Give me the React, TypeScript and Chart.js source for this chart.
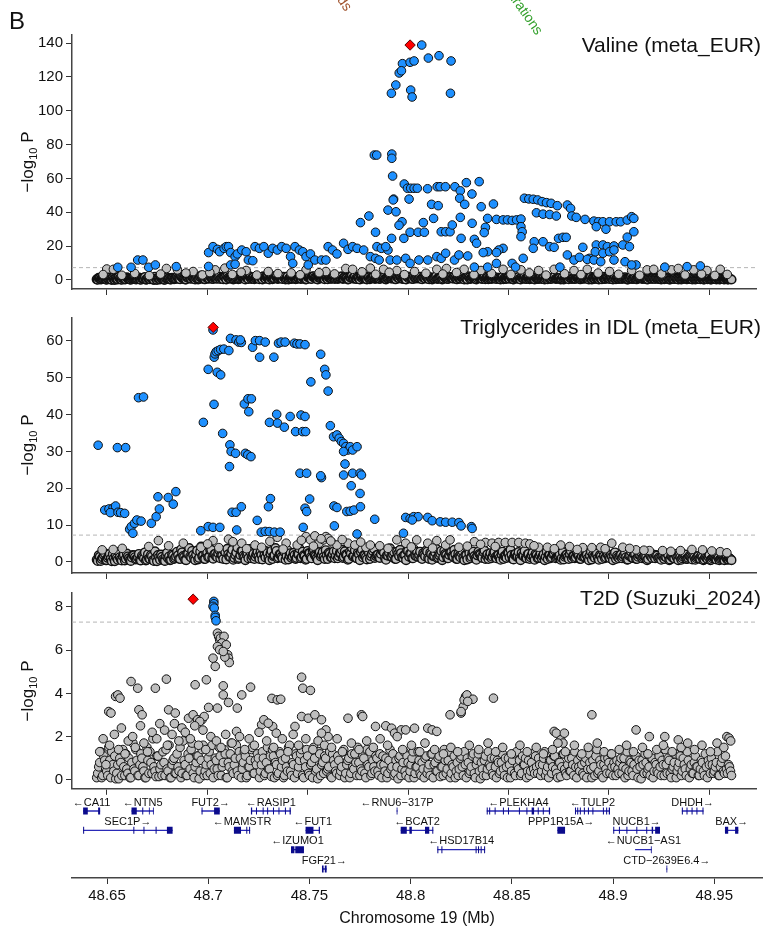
import React, { useEffect, useRef } from 'react';
import { Chart, registerables } from 'chart.js';

Chart.register(...registerables);

const FONT = '"Liberation Sans", Arial, Helvetica, sans-serif';
const X_MIN = 48632.7;
const X_MAX = 48973.6;
const GWS_LINE = 7.3;

const xTickValues = [48650, 48700, 48750, 48800, 48850, 48900, 48950];
const xTickLabels = ['48.65', '48.7', '48.75', '48.8', '48.85', '48.9', '48.95'];
const valineTicks = [0, 20, 40, 60, 80, 100, 120, 140];
const tgTicks = [0, 10, 20, 30, 40, 50, 60];
const t2dTicks = [0, 2, 4, 6, 8];

// positions (kb) of the dense background SNPs shared by the three traits
const snpKb = [
  48645,48646,48647,48648,48649,48650,48651,48652,48653,48654,48655,48656,48657,48658,48659,48660,48661,48662,48663,48664,
  48665,48666,48667,48668,48669,48670,48671,48672,48673,48674,48675,48676,48677,48678,48679,48680,48681,48682,48683,48684,
  48685,48686,48687,48688,48689,48690,48691,48692,48693,48694,48695,48696,48697,48698,48699,48700,48701,48702,48703,48704,
  48705,48706,48707,48708,48709,48710,48711,48712,48713,48714,48715,48716,48717,48718,48719,48720,48721,48722,48723,48724,
  48725,48726,48727,48728,48729,48730,48731,48732,48733,48734,48735,48736,48737,48738,48739,48740,48741,48742,48743,48744,
  48745,48746,48747,48748,48749,48750,48751,48752,48753,48754,48755,48756,48757,48758,48759,48760,48761,48762,48763,48764,
  48765,48766,48767,48768,48769,48770,48771,48772,48773,48774,48775,48776,48777,48778,48779,48780,48781,48782,48783,48784,
  48785,48786,48787,48788,48789,48790,48791,48792,48793,48794,48795,48796,48797,48798,48799,48800,48801,48802,48803,48804,
  48805,48806,48807,48808,48809,48810,48811,48812,48813,48814,48815,48816,48817,48818,48819,48820,48821,48822,48823,48824,
  48825,48826,48827,48828,48829,48830,48831,48832,48833,48834,48835,48836,48837,48838,48839,48840,48841,48842,48843,48844,
  48845,48846,48847,48848,48849,48850,48851,48852,48853,48854,48855,48856,48857,48858,48859,48860,48861,48862,48863,48864,
  48865,48866,48867,48868,48869,48870,48871,48872,48873,48874,48875,48876,48877,48878,48879,48880,48881,48882,48883,48884,
  48885,48886,48887,48888,48889,48890,48891,48892,48893,48894,48895,48896,48897,48898,48899,48900,48901,48902,48903,48904,
  48905,48906,48907,48908,48909,48910,48911,48912,48913,48914,48915,48916,48917,48918,48919,48920,48921,48922,48923,48924,
  48925,48926,48927,48928,48929,48930,48931,48932,48933,48934,48935,48936,48937,48938,48939,48940,48941,48942,48943,48944,
  48945,48946,48947,48948,48949,48950,48951,48952,48953,48954,48955,48956,48957,48958,48959,48960,48961,
];
// second set of background SNPs, between the first ones
const snpKb2 = [
  48645.5,48646.5,48647.5,48648.5,48649.5,48650.5,48651.5,48652.5,48653.5,48654.5,48655.5,48656.5,48657.5,48658.5,48659.5,48660.5,48661.5,48662.5,48663.5,48664.5,
  48665.5,48666.5,48667.5,48668.5,48669.5,48670.5,48671.5,48672.5,48673.5,48674.5,48675.5,48676.5,48677.5,48678.5,48679.5,48680.5,48681.5,48682.5,48683.5,48684.5,
  48685.5,48686.5,48687.5,48688.5,48689.5,48690.5,48691.5,48692.5,48693.5,48694.5,48695.5,48696.5,48697.5,48698.5,48699.5,48700.5,48701.5,48702.5,48703.5,48704.5,
  48705.5,48706.5,48707.5,48708.5,48709.5,48710.5,48711.5,48712.5,48713.5,48714.5,48715.5,48716.5,48717.5,48718.5,48719.5,48720.5,48721.5,48722.5,48723.5,48724.5,
  48725.5,48726.5,48727.5,48728.5,48729.5,48730.5,48731.5,48732.5,48733.5,48734.5,48735.5,48736.5,48737.5,48738.5,48739.5,48740.5,48741.5,48742.5,48743.5,48744.5,
  48745.5,48746.5,48747.5,48748.5,48749.5,48750.5,48751.5,48752.5,48753.5,48754.5,48755.5,48756.5,48757.5,48758.5,48759.5,48760.5,48761.5,48762.5,48763.5,48764.5,
  48765.5,48766.5,48767.5,48768.5,48769.5,48770.5,48771.5,48772.5,48773.5,48774.5,48775.5,48776.5,48777.5,48778.5,48779.5,48780.5,48781.5,48782.5,48783.5,48784.5,
  48785.5,48786.5,48787.5,48788.5,48789.5,48790.5,48791.5,48792.5,48793.5,48794.5,48795.5,48796.5,48797.5,48798.5,48799.5,48800.5,48801.5,48802.5,48803.5,48804.5,
  48805.5,48806.5,48807.5,48808.5,48809.5,48810.5,48811.5,48812.5,48813.5,48814.5,48815.5,48816.5,48817.5,48818.5,48819.5,48820.5,48821.5,48822.5,48823.5,48824.5,
  48825.5,48826.5,48827.5,48828.5,48829.5,48830.5,48831.5,48832.5,48833.5,48834.5,48835.5,48836.5,48837.5,48838.5,48839.5,48840.5,48841.5,48842.5,48843.5,48844.5,
  48845.5,48846.5,48847.5,48848.5,48849.5,48850.5,48851.5,48852.5,48853.5,48854.5,48855.5,48856.5,48857.5,48858.5,48859.5,48860.5,48861.5,48862.5,48863.5,48864.5,
  48865.5,48866.5,48867.5,48868.5,48869.5,48870.5,48871.5,48872.5,48873.5,48874.5,48875.5,48876.5,48877.5,48878.5,48879.5,48880.5,48881.5,48882.5,48883.5,48884.5,
  48885.5,48886.5,48887.5,48888.5,48889.5,48890.5,48891.5,48892.5,48893.5,48894.5,48895.5,48896.5,48897.5,48898.5,48899.5,48900.5,48901.5,48902.5,48903.5,48904.5,
  48905.5,48906.5,48907.5,48908.5,48909.5,48910.5,48911.5,48912.5,48913.5,48914.5,48915.5,48916.5,48917.5,48918.5,48919.5,48920.5,48921.5,48922.5,48923.5,48924.5,
  48925.5,48926.5,48927.5,48928.5,48929.5,48930.5,48931.5,48932.5,48933.5,48934.5,48935.5,48936.5,48937.5,48938.5,48939.5,48940.5,48941.5,48942.5,48943.5,48944.5,
  48945.5,48946.5,48947.5,48948.5,48949.5,48950.5,48951.5,48952.5,48953.5,48954.5,48955.5,48956.5,48957.5,48958.5,48959.5,48960.5,
];

const valineBandP = [
  0.4,1.2,0.3,0.8,1.6,0.2,0.9,0.5,1.3,0.1,0.7,1.8,0.4,1.0,0.3,1.5,0.6,0.2,1.1,0.8,
  0.5,1.4,0.2,0.9,1.7,0.3,0.6,1.2,0.4,1.9,0.1,0.8,1.3,0.5,0.2,1.6,0.9,0.4,1.1,0.7,
  1.8,0.6,2.2,1.0,0.4,1.5,2.4,0.8,1.2,0.3,1.9,0.7,2.6,1.1,0.5,1.7,0.9,2.1,0.6,1.4,
  0.8,2.0,1.3,0.5,1.7,2.3,0.9,1.5,0.4,1.2,2.5,0.7,1.9,1.1,0.3,1.6,2.2,0.6,1.4,0.9,
  1.7,0.5,1.2,2.1,0.8,1.5,0.3,1.9,1.0,2.4,0.6,1.3,0.9,1.8,0.4,2.0,1.1,0.7,1.6,0.5,
  1.4,2.3,0.8,1.1,0.4,1.9,1.5,0.6,2.2,1.0,0.3,1.7,1.2,0.9,2.0,0.5,1.4,0.8,1.8,1.1,
  0.6,1.5,2.1,0.9,1.3,0.4,1.8,2.5,1.0,0.7,1.6,0.3,2.2,1.2,0.8,1.9,0.5,1.4,2.3,1.0,
  1.3,0.7,2.0,1.6,0.4,1.1,2.4,0.9,1.7,0.5,1.4,2.1,0.8,1.2,0.3,1.9,1.5,0.6,2.2,1.0,
  0.9,1.8,0.5,1.3,2.0,0.7,1.6,0.4,1.1,2.3,0.8,1.5,0.3,1.9,1.2,0.6,1.7,1.0,2.1,0.5,
  1.4,0.8,1.9,0.3,1.2,2.2,0.6,1.6,1.0,0.4,1.8,1.3,0.7,2.0,1.1,0.5,1.5,0.9,1.7,0.6,
  1.2,0.4,1.8,1.0,0.7,1.5,2.1,0.5,1.3,0.9,1.7,0.3,1.1,1.9,0.6,1.4,0.8,1.6,0.4,1.2,
  0.7,1.5,1.0,0.3,1.8,1.2,0.6,1.4,2.0,0.8,1.1,0.4,1.7,0.9,1.3,0.5,1.9,1.0,0.6,1.5,
  1.1,0.5,1.6,0.9,1.3,0.3,1.8,1.2,0.7,1.5,0.4,1.0,1.9,0.6,1.4,0.8,1.2,0.3,1.7,1.1,
  0.6,1.3,0.9,1.6,0.4,1.1,1.8,0.7,1.4,0.5,1.2,1.7,0.8,1.0,0.3,1.5,0.9,1.3,0.6,1.1,
  0.8,0.4,1.2,0.9,1.5,0.3,1.0,0.6,1.4,0.7,1.1,0.4,0.9,1.3,0.5,1.0,0.7,1.2,0.4,0.8,
  0.6,1.1,0.3,0.9,0.5,1.2,0.4,0.8,0.6,1.0,0.3,0.7,0.5,0.9,0.4,0.6,0.3,
];
const valineBand2P = [
  0.2,0.9,0.5,1.1,0.3,0.7,1.3,0.1,0.6,1.0,0.4,0.8,0.2,1.2,0.5,0.9,0.3,0.7,1.1,0.4,
  0.8,0.3,1.0,0.6,0.2,1.3,0.5,0.9,0.1,0.7,1.1,0.4,0.8,0.2,1.0,0.6,0.3,1.2,0.5,0.9,
  1.1,0.5,1.6,0.8,0.3,1.4,0.9,1.9,0.6,1.2,0.4,1.7,1.0,0.5,1.5,0.8,2.0,0.7,1.3,0.9,
  1.5,0.6,1.1,1.8,0.4,1.3,0.9,2.1,0.7,1.6,0.5,1.2,1.9,0.8,1.4,0.6,1.7,1.0,0.5,1.3,
  0.9,1.6,0.4,1.2,1.8,0.7,1.4,0.5,1.1,1.9,0.8,1.3,0.6,1.7,1.0,0.4,1.5,0.9,1.2,0.7,
  1.3,0.6,1.8,1.0,0.5,1.5,0.8,2.0,1.2,0.6,1.4,0.9,1.7,0.5,1.1,1.6,0.8,1.3,0.6,1.9,
  1.0,1.5,0.7,1.8,1.2,0.5,1.4,0.9,2.0,0.6,1.3,1.7,0.8,1.1,0.4,1.6,1.0,1.9,0.7,1.2,
  0.8,1.4,1.9,0.6,1.1,1.6,0.9,1.3,0.5,1.8,1.0,1.5,0.7,1.2,2.0,0.9,1.4,0.6,1.1,1.7,
  1.2,0.6,1.5,0.9,1.8,0.5,1.3,1.0,1.6,0.7,1.1,1.9,0.8,1.4,0.6,1.2,1.7,0.9,1.3,0.5,
  1.0,1.6,0.7,1.2,0.4,1.5,0.9,1.8,0.6,1.1,1.4,0.8,1.7,0.5,1.3,1.0,0.6,1.5,0.8,1.2,
  0.7,1.3,0.5,1.0,1.6,0.8,1.2,0.4,1.4,0.9,0.6,1.5,1.0,0.7,1.3,0.5,1.1,0.8,1.4,0.6,
  1.1,0.6,1.3,0.9,0.5,1.2,0.8,1.5,0.6,1.0,1.3,0.7,0.4,1.1,0.9,1.4,0.6,1.0,0.8,1.2,
  0.5,1.0,0.8,1.3,0.6,1.1,0.4,0.9,1.4,0.7,1.2,0.5,1.0,0.8,1.3,0.6,0.9,1.1,0.5,0.8,
  1.0,0.6,1.2,0.8,0.4,1.1,0.7,1.3,0.5,0.9,1.2,0.6,1.0,0.8,0.5,1.1,0.7,0.9,1.2,0.6,
  0.7,1.0,0.5,0.8,1.1,0.4,0.9,0.6,1.0,0.3,0.8,0.6,1.1,0.5,0.7,0.9,0.4,0.8,0.6,1.0,
  0.5,0.8,0.4,0.7,0.9,0.3,0.6,0.8,0.4,0.7,0.5,0.9,0.3,0.6,0.4,0.5,
];

const tgBandP = [
  0.6,1.8,0.3,1.2,2.4,0.5,1.5,0.9,2.1,0.2,1.1,2.7,0.7,1.6,0.4,2.3,1.0,0.3,1.9,1.3,
  0.8,2.2,0.4,1.4,2.6,0.6,1.0,1.9,0.5,2.9,0.2,1.3,2.0,0.7,0.3,2.5,1.5,0.6,1.7,1.1,
  2.8,0.9,3.4,1.6,0.6,2.3,3.8,1.2,1.9,0.5,3.1,1.1,4.2,1.7,0.8,2.6,1.4,3.3,0.9,2.2,
  1.3,3.2,2.0,0.8,2.7,3.6,1.4,2.3,0.6,1.9,3.9,1.1,3.0,1.7,0.5,2.5,3.5,1.0,2.2,1.4,
  2.7,0.8,1.9,3.3,1.2,2.4,0.5,3.0,1.6,3.8,1.0,2.1,1.4,2.9,0.6,3.2,1.7,1.1,2.5,0.8,
  2.2,3.6,1.3,1.8,0.6,3.0,2.4,1.0,3.5,1.6,0.5,2.7,1.9,1.4,3.2,0.8,2.2,1.3,2.9,1.7,
  1.0,2.4,3.3,1.4,2.0,0.6,2.8,3.9,1.6,1.1,2.5,0.5,3.4,1.9,1.3,3.0,0.8,2.2,3.6,1.6,
  2.0,1.1,3.1,2.5,0.6,1.7,3.7,1.4,2.7,0.8,2.2,3.3,1.3,1.9,0.5,3.0,2.3,1.0,3.4,1.6,
  1.4,2.8,0.8,2.0,3.1,1.1,2.5,0.6,1.7,3.6,1.3,2.3,0.5,3.0,1.9,1.0,2.7,1.6,3.3,0.8,
  2.2,1.3,3.0,0.5,1.9,3.4,1.0,2.5,1.6,0.6,2.8,2.0,1.1,3.1,1.7,0.8,2.4,1.4,2.7,1.0,
  1.9,0.6,2.8,1.6,1.1,2.4,3.3,0.8,2.0,1.4,2.7,0.5,1.7,3.0,1.0,2.2,1.3,2.5,0.6,1.9,
  1.1,2.4,1.6,0.5,2.8,1.9,1.0,2.2,3.1,1.3,1.7,0.6,2.7,1.4,2.0,0.8,3.0,1.6,1.0,2.3,
  1.7,0.8,2.5,1.4,2.0,0.5,2.8,1.9,1.1,2.3,0.6,1.6,3.0,1.0,2.2,1.3,1.9,0.5,2.6,1.7,
  1.0,2.0,1.4,2.5,0.6,1.7,2.8,1.1,2.2,0.8,1.9,2.6,1.3,1.6,0.5,2.3,1.4,2.0,1.0,1.7,
  1.3,0.6,1.9,1.4,2.3,0.5,1.6,1.0,2.2,1.1,1.7,0.6,1.4,2.0,0.8,1.6,1.1,1.9,0.6,1.3,
  1.0,1.7,0.5,1.4,0.8,1.9,0.6,1.3,1.0,1.6,0.5,1.1,0.8,1.4,0.6,1.0,0.5,
];
const tgBand2P = [
  0.3,1.4,0.8,1.9,0.5,1.1,2.2,0.2,1.0,1.7,0.6,1.3,0.4,2.0,0.9,1.5,0.5,1.2,1.8,0.7,
  1.3,0.5,1.7,1.0,0.4,2.1,0.8,1.5,0.3,1.2,1.9,0.6,1.4,0.4,1.7,1.0,0.5,2.0,0.8,1.5,
  1.8,0.8,2.6,1.3,0.5,2.3,1.5,3.0,1.0,2.0,0.7,2.8,1.6,0.8,2.4,1.3,3.2,1.1,2.1,1.5,
  2.4,1.0,1.8,2.9,0.7,2.1,1.4,3.3,1.1,2.6,0.8,1.9,3.0,1.3,2.2,1.0,2.7,1.6,0.8,2.1,
  1.5,2.6,0.7,1.9,2.9,1.1,2.3,0.8,1.8,3.0,1.3,2.1,1.0,2.7,1.6,0.7,2.4,1.5,1.9,1.1,
  2.1,1.0,2.8,1.6,0.8,2.4,1.3,3.1,1.9,1.0,2.3,1.5,2.7,0.8,1.8,2.5,1.3,2.1,1.0,3.0,
  1.6,2.4,1.1,2.9,1.9,0.8,2.3,1.5,3.2,1.0,2.1,2.7,1.3,1.8,0.7,2.5,1.6,3.0,1.1,1.9,
  1.3,2.2,3.0,1.0,1.8,2.5,1.5,2.1,0.8,2.8,1.6,2.4,1.1,1.9,3.1,1.4,2.2,1.0,1.8,2.7,
  1.9,1.0,2.4,1.5,2.8,0.8,2.1,1.6,2.6,1.1,1.8,3.0,1.3,2.2,1.0,1.9,2.7,1.4,2.1,0.8,
  1.6,2.5,1.1,1.9,0.7,2.4,1.4,2.8,1.0,1.8,2.2,1.3,2.7,0.8,2.1,1.6,1.0,2.4,1.3,1.9,
  1.1,2.1,0.8,1.6,2.5,1.3,1.9,0.7,2.2,1.4,1.0,2.4,1.6,1.1,2.1,0.8,1.8,1.3,2.2,1.0,
  1.8,1.0,2.1,1.4,0.8,1.9,1.3,2.4,1.0,1.6,2.1,1.1,0.7,1.8,1.4,2.2,1.0,1.6,1.3,1.9,
  0.8,1.6,1.3,2.1,1.0,1.8,0.7,1.4,2.2,1.1,1.9,0.8,1.6,1.3,2.1,1.0,1.4,1.8,0.8,1.3,
  1.6,1.0,1.9,1.3,0.7,1.8,1.1,2.1,0.8,1.4,1.9,1.0,1.6,1.3,0.8,1.8,1.1,1.4,1.9,1.0,
  1.1,1.6,0.8,1.3,1.8,0.7,1.4,1.0,1.6,0.5,1.3,1.0,1.8,0.8,1.1,1.4,0.7,1.3,1.0,1.6,
  0.8,1.3,0.7,1.1,1.4,0.5,1.0,1.3,0.7,1.1,0.8,1.4,0.5,1.0,0.7,0.8,
];

const t2dBandP = [
  0.1,0.6,1.3,0.2,0.9,0.4,1.5,0.1,0.7,1.1,0.3,0.05,0.8,1.4,0.2,0.5,1.0,0.1,1.7,0.4,
  0.9,0.2,1.2,0.6,0.1,1.5,0.3,0.8,1.9,0.4,1.1,0.15,0.7,1.3,0.2,0.5,1.6,0.1,0.9,0.3,
  1.2,0.4,0.1,1.8,0.7,0.2,1.0,1.4,0.3,0.6,1.1,0.05,0.9,1.6,0.4,0.2,1.3,0.7,0.1,1.0,
  0.5,1.5,0.2,0.8,1.2,0.1,0.6,1.7,0.3,1.0,0.4,1.3,0.1,0.8,1.1,0.2,0.6,1.4,0.3,0.9,
  1.2,0.1,0.7,1.0,0.3,1.5,0.5,0.15,1.1,0.8,0.2,1.3,0.6,0.1,1.0,0.4,1.6,0.2,0.7,1.2,
  0.3,0.9,1.4,0.1,0.6,1.1,0.2,0.8,1.5,0.4,0.05,1.2,0.7,0.3,1.0,0.5,1.3,0.1,0.9,0.4,
  1.1,0.2,0.6,1.4,0.3,0.9,0.1,1.2,0.5,0.8,1.5,0.2,0.4,1.0,0.1,0.7,1.3,0.3,0.6,1.1,
  0.4,1.2,0.1,0.7,1.0,0.3,1.4,0.6,0.2,0.9,0.05,1.1,0.5,1.3,0.2,0.8,0.4,1.0,0.1,0.6,
  1.3,0.3,0.8,0.1,1.1,0.5,0.2,1.2,0.7,0.4,1.0,0.15,0.6,1.4,0.3,0.9,0.1,0.7,1.1,0.4,
  0.2,1.0,0.6,1.3,0.1,0.8,0.4,1.1,0.3,0.7,1.2,0.05,0.5,0.9,0.2,1.3,0.6,0.3,1.0,0.1,
  0.8,0.4,1.2,0.2,0.6,1.0,0.1,0.9,0.3,1.3,0.5,0.2,1.1,0.7,0.1,0.9,0.4,1.2,0.3,0.6,
  1.0,0.2,0.7,1.3,0.4,0.1,0.9,0.6,1.1,0.3,0.8,0.15,1.2,0.5,0.2,1.0,0.4,0.7,1.3,0.1,
  0.6,1.1,0.3,0.8,0.1,1.2,0.5,0.9,0.2,1.4,0.4,0.7,0.1,1.0,0.3,0.8,1.2,0.2,0.6,0.9,
  0.3,1.0,0.6,0.1,1.3,0.4,0.8,0.2,1.1,0.5,0.9,0.05,0.7,1.2,0.3,0.6,1.0,0.1,0.8,0.4,
  1.1,0.2,0.7,1.4,0.3,0.9,0.1,0.6,1.2,0.4,0.8,0.2,1.0,0.5,1.3,0.1,0.7,0.3,1.1,0.6,
  0.2,0.9,0.4,1.2,0.1,0.7,1.0,0.3,0.6,1.3,0.2,0.8,0.4,1.1,0.3,0.6,0.2,
];
const t2dBand2P = [
  0.3,0.8,0.1,1.1,0.5,0.2,0.9,1.3,0.4,0.05,0.7,1.0,0.2,0.6,1.2,0.3,0.1,0.8,0.5,1.4,
  0.2,0.7,1.0,0.4,0.1,0.9,1.3,0.3,0.6,0.15,1.1,0.5,0.2,0.8,1.4,0.4,0.1,0.7,1.0,0.3,
  0.6,1.5,0.3,0.9,0.2,1.2,0.5,1.7,0.1,0.8,1.1,0.4,1.4,0.2,0.7,1.0,0.3,1.6,0.5,0.9,
  0.2,1.1,0.6,1.4,0.1,0.8,1.2,0.4,0.7,1.6,0.2,1.0,0.5,1.3,0.1,0.6,0.9,1.5,0.3,0.7,
  1.0,0.4,1.3,0.2,0.8,0.5,1.1,1.4,0.1,0.7,0.3,1.2,0.9,0.2,0.6,1.5,0.4,0.8,0.1,1.1,
  0.6,1.2,0.2,0.9,1.4,0.3,0.7,0.1,1.0,0.5,1.3,0.2,0.8,1.1,0.4,0.6,0.15,1.2,0.7,0.3,
  0.9,0.4,1.3,0.1,0.7,1.0,0.3,0.6,1.2,0.2,0.8,0.5,1.1,0.3,1.4,0.6,0.2,0.9,0.4,1.0,
  0.2,0.7,1.1,0.4,0.1,0.9,0.5,1.2,0.3,0.6,1.0,0.2,0.8,0.4,1.1,0.1,0.7,1.3,0.3,0.6,
  0.9,0.2,0.5,1.0,0.3,0.7,1.2,0.1,0.8,0.4,1.1,0.6,0.2,0.9,0.5,1.3,0.3,0.6,0.1,0.8,
  0.5,1.1,0.2,0.7,1.0,0.3,0.6,1.2,0.1,0.9,0.4,0.8,0.2,1.1,0.5,0.7,1.0,0.2,0.6,0.9,
  0.3,0.8,0.5,1.0,0.1,0.7,0.4,1.2,0.2,0.6,0.9,0.3,0.7,1.0,0.4,0.2,0.8,0.5,1.1,0.3,
  0.7,0.4,1.0,0.2,0.6,0.9,0.3,1.1,0.5,0.1,0.8,0.6,1.2,0.3,0.7,0.4,1.0,0.2,0.6,0.9,
  0.4,0.7,0.2,1.0,0.5,0.8,0.1,0.6,1.1,0.3,0.9,0.2,0.7,0.5,1.0,0.3,0.6,0.8,0.2,0.5,
  0.8,0.3,1.0,0.5,0.2,0.9,0.4,0.7,1.1,0.1,0.6,0.9,0.3,0.8,0.5,0.2,1.0,0.4,0.7,0.3,
  0.6,0.9,0.2,0.7,1.0,0.3,0.5,0.8,0.1,0.6,1.1,0.4,0.7,0.2,0.9,0.5,0.3,0.8,0.6,0.2,
  0.5,0.8,0.2,0.6,0.9,0.3,0.7,0.4,0.8,0.2,0.6,1.0,0.3,0.5,0.7,0.4,
];

type P = [number, number];

// ---------- Valine (meta_EUR) ----------
const valineLead: P[] = [[48801.0, 138.8]];
const valineSig: P[] = [
  [48806.8,138.8],[48810.1,131.1],[48815.4,132.5],[48821.4,129.4],[48797.2,127.8],[48801.0,128.6],[48803.0,129.4],
  [48795.6,122.3],[48796.7,123.6],[48793.9,115.2],[48791.7,110.3],[48801.3,112.2],[48802.0,108.1],[48821.1,110.3],
  [48783.2,73.8],[48784.4,73.8],[48791.9,74.4],[48791.9,71.9],[48792.3,61.4],[48798.1,56.7],[48799.7,54.2],
  [48801.3,54.2],[48803.0,54.2],[48804.6,54.2],[48809.7,53.9],[48814.5,55.1],[48815.9,55.1],[48818.6,55.1],
  [48823.3,55.1],[48826.0,52.7],[48829.0,57.5],[48835.4,58.1],[48831.8,50.8],[48825.7,48.3],[48792.8,47.8],
  [48800.5,47.8],[48811.7,44.7],[48815.0,43.9],[48828.2,44.7],[48836.4,43.3],[48842.5,44.9],
  [48776.3,33.9],[48780.5,37.8],[48783.8,28.2],[48790.0,41.3],[48791.8,24.6],[48792.6,47.3],[48794.0,40.3],
  [48797.0,34.4],[48795.5,32.3],[48797.9,24.6],[48801.0,28.2],[48805.0,28.2],[48808.1,28.2],[48807.6,33.9],
  [48812.7,36.4],[48816.5,28.5],[48818.7,28.5],[48820.9,28.5],[48822.0,32.5],[48826.0,37.0],[48826.4,24.6],
  [48831.9,33.5],[48833.0,24.0],[48834.1,21.7],[48838.5,31.1],[48837.9,28.0],
  [48839.6,36.4],[48844.0,35.8],[48847.3,35.5],[48849.5,35.5],[48851.8,35.2],[48854.0,35.5],[48856.2,36.0],
  [48856.2,31.5],[48856.8,28.5],[48856.2,25.6],
  [48857.9,48.3],[48860.1,47.9],[48862.3,47.7],[48864.5,47.3],[48866.7,46.3],[48868.9,45.7],[48871.2,45.3],
  [48874.3,43.9],[48879.3,44.3],[48880.9,42.3],
  [48863.9,39.7],[48867.2,38.9],[48870.5,38.7],[48873.8,37.8],[48881.5,37.8],
  [48883.7,37.0],[48888.1,35.8],[48892.5,34.8],[48894.8,34.4],[48897.0,34.4],[48900.3,34.4],[48903.6,34.4],
  [48905.8,34.4],[48909.1,35.4],[48911.3,37.4],[48912.4,36.4],[48893.7,31.5],[48898.5,30.0],[48912.4,28.5],
  [48909.1,25.3],
  [48862.8,22.6],[48867.2,22.6],[48870.5,19.7],[48872.7,19.3],[48874.9,24.6],[48877.1,25.2],[48878.7,25.2],
  [48857.3,12.8],[48862.3,18.7],[48879.3,14.8],[48882.6,11.8],[48885.3,13.4],[48890.3,12.8],[48887.0,19.3],
  [48893.7,20.7],[48897.0,20.7],[48899.2,19.7],[48902.5,20.1],[48906.9,20.7],[48889.2,12.2],[48892.5,11.8],
  [48895.9,10.8],[48902.5,11.8],[48908.0,10.8],[48913.5,8.9],[48893.2,16.7],[48897.0,15.8],[48900.3,16.7],
  [48902.5,17.7],[48910.2,19.7],
  [48847.3,18.7],[48845.1,17.7],[48844.0,16.2],[48839.6,16.7],[48837.4,16.2],[48851.8,9.8],[48853.5,7.6],
  [48655.5,7.5],[48662.1,7.5],[48665.4,11.8],[48668.0,11.8],[48670.9,7.5],[48674.2,8.9],[48684.6,7.9],
  [48700.7,16.2],[48702.9,19.7],[48705.1,18.1],[48706.2,16.7],[48708.4,18.7],[48709.5,19.7],[48710.6,19.7],
  [48711.7,16.2],[48713.9,13.8],[48715.0,15.4],[48717.2,17.7],[48719.4,16.7],[48720.5,11.8],[48722.7,11.4],
  [48723.8,19.7],[48726.0,18.7],[48728.2,19.7],[48730.4,15.8],[48732.6,18.7],[48734.9,17.7],[48737.1,19.7],
  [48739.3,18.7],[48741.5,13.8],[48743.7,19.7],[48745.9,17.7],[48747.6,16.7],[48749.2,13.8],[48751.4,15.4],
  [48753.6,11.8],[48756.9,11.8],[48760.2,19.7],[48762.4,17.7],[48764.6,15.4],[48767.9,21.7],[48770.1,18.1],
  [48772.4,19.7],[48774.6,18.7],[48777.9,17.7],[48781.2,13.8],[48784.5,19.7],[48786.7,18.7],[48790.0,17.7],
  [48791.1,11.8],[48794.4,11.8],[48798.8,12.8],[48801.0,9.8],
  [48700.7,8.0],[48711.7,8.9],[48713.9,9.3],[48742.6,9.8],[48750.3,8.9],[48759.1,11.8],[48783.8,12.8],
  [48785.6,11.8],[48788.9,19.7],[48805.4,11.8],[48809.8,11.8],[48814.3,13.8],[48816.5,12.8],[48818.7,15.8],
  [48823.1,11.8],[48825.3,14.8],[48829.7,14.2],[48833.0,7.6],[48839.6,7.6],[48844.0,9.8],[48875.6,7.6],
  [48911.3,8.9],[48927.8,7.6],[48938.9,7.9],[48945.5,8.3],
];
const valineLow: P[] = [
  [48650.0,6.5],[48653.3,6.3],[48679.7,6.8],[48685.2,6.0],[48693.0,5.0],[48704.0,6.0],[48708.8,7.0],[48719.4,5.6],
  [48730.4,5.0],[48749.2,6.0],[48759.1,5.0],[48769.0,6.8],[48772.4,6.3],[48781.2,7.0],[48787.8,6.3],[48794.4,5.6],
  [48803.2,5.0],[48814.3,6.3],[48819.1,6.8],[48827.9,6.3],[48836.3,5.6],[48847.3,6.3],[48856.2,6.0],[48865.0,5.6],
  [48872.7,6.3],[48882.6,5.6],[48889.2,6.3],[48900.3,5.0],[48911.3,5.6],[48919.0,6.0],[48922.3,6.3],[48931.2,6.0],
  [48934.5,6.8],[48942.2,6.0],[48948.8,5.6],[48955.4,6.3],
  [48648.2,3.2],[48657.5,2.8],[48663.9,3.9],[48671.2,2.6],[48676.8,3.5],[48689.4,4.1],[48697.6,3.0],[48701.3,4.4],
  [48712.5,3.3],[48716.9,4.6],[48724.7,2.9],[48735.2,3.8],[48741.8,4.2],[48746.3,3.1],[48755.7,4.3],[48763.4,3.6],
  [48777.1,4.8],[48783.9,3.4],[48790.6,4.5],[48798.2,3.2],[48808.9,4.0],[48817.3,3.5],[48824.1,4.4],[48832.8,3.1],
  [48841.5,3.9],[48851.2,3.3],[48860.4,4.2],[48868.7,2.9],[48877.9,3.7],[48886.1,3.2],[48894.6,4.1],[48904.8,3.4],
  [48915.3,2.8],[48926.2,3.6],[48937.9,3.0],[48946.1,3.5],[48952.7,2.7],[48958.9,3.3],
];

// ---------- Triglycerides in IDL (meta_EUR) ----------
const tgLead: P[] = [[48703.0, 63.7]];
const tgSig: P[] = [
  [48702.9,63.0],[48645.7,31.7],[48655.3,31.05],[48659.4,31.05],[48665.8,44.6],[48668.3,44.8],
  [48649.0,14.1],[48651.1,14.4],[48653.1,14.6],[48654.4,15.2],[48651.8,13.4],[48655.6,13.5],[48656.9,13.4],[48658.9,13.2],
  [48661.4,8.9],[48662.2,9.6],[48663.8,10.5],[48665.0,11.4],[48667.1,11.1],[48663.0,7.8],
  [48672.2,10.5],[48674.6,12.3],[48676.2,14.4],[48675.5,17.7],[48680.6,17.5],[48683.1,15.7],[48684.4,19.1],
  [48696.8,8.5],[48700.5,9.6],[48702.9,9.4],[48706.3,9.4],[48698.1,37.9],[48700.5,52.3],[48703.4,42.8],
  [48705.0,51.5],[48706.7,50.8],[48703.5,55.6],[48703.9,56.5],[48704.5,57.1],[48705.5,57.4],[48706.7,57.7],
  [48708.3,57.8],[48710.8,57.4],[48711.6,60.7],[48714.4,60.3],[48715.7,59.7],[48717.0,59.6],[48716.5,60.3],
  [48722.6,58.3],[48724.0,60.1],[48726.1,60.1],[48728.9,59.7],[48726.1,55.6],[48733.2,55.6],[48735.5,59.4],
  [48736.8,59.7],[48738.8,59.7],[48743.4,59.4],[48744.7,59.2],[48746.2,59.2],[48748.7,59.0],
  [48707.7,34.9],[48711.3,31.8],[48711.9,30.0],[48714.1,29.5],[48711.1,25.9],[48718.5,42.9],[48720.3,44.3],
  [48722.0,44.3],[48720.7,40.8],[48719.0,29.5],[48720.2,29.1],[48721.8,28.6],[48712.4,13.5],[48714.4,13.5],
  [48717.0,15.0],[48714.7,8.7],[48724.9,11.3],[48726.9,8.1],[48728.9,8.3],[48730.9,8.25],[48733.5,8.1],
  [48736.3,8.1],[48730.5,15.0],[48731.5,17.2],[48731.0,37.9],[48734.6,40.1],[48735.0,37.7],[48738.4,36.6],
  [48741.3,39.5],[48744.0,35.4],[48746.7,39.9],[48747.5,35.4],[48748.7,39.5],[48749.0,35.4],[48746.2,24.1],
  [48749.5,24.1],[48748.7,14.6],[48749.5,13.7],[48747.8,9.4],
  [48756.5,56.4],[48758.5,52.3],[48759.1,50.8],[48760.2,46.4],[48751.6,48.9],[48761.3,37.0],[48762.9,34.0],
  [48764.6,34.5],[48765.7,33.6],[48766.8,32.7],[48767.9,32.2],[48769.0,31.3],[48770.1,30.4],[48767.9,30.0],
  [48771.2,31.3],[48772.4,30.4],[48774.6,31.3],[48768.6,26.6],[48767.9,23.6],[48772.4,24.1],[48771.7,20.7],
  [48776.1,24.1],[48776.8,23.6],[48776.1,18.6],[48756.9,22.9],[48756.5,23.4],[48751.0,17.1],[48763.1,15.2],
  [48764.6,14.8],[48769.5,13.7],[48771.2,13.8],[48773.0,14.1],[48776.3,15.0],[48763.3,9.8],[48774.6,7.6],
  [48783.4,11.6],[48797.7,7.8],[48798.8,12.1],[48801.0,11.8],[48802.8,12.3],[48805.0,12.3],[48802.1,11.4],
  [48809.8,12.1],[48812.0,11.2],[48816.0,10.9],[48818.7,10.8],[48822.0,10.8],[48825.3,10.7],[48826.4,9.8],
  [48831.5,9.6],[48831.9,9.1],
];
const tgLow: P[] = [
  [48647.7,3.3],[48653.2,3.4],[48657.7,3.7],[48670.9,4.2],[48675.7,5.8],[48680.8,4.4],[48688.1,5.1],[48696.9,4.0],
  [48702.9,5.8],[48710.6,6.2],[48712.8,5.5],[48717.2,5.1],[48723.8,4.6],[48727.1,4.0],[48734.9,6.7],[48739.3,5.1],
  [48744.8,4.6],[48749.2,6.9],[48751.4,6.0],[48753.6,7.1],[48755.8,5.1],[48758.0,6.0],[48759.1,6.9],[48760.2,6.4],
  [48762.4,5.1],[48764.6,4.6],[48770.1,5.1],[48773.5,4.6],[48779.0,4.0],[48781.2,4.6],[48790.0,3.7],[48794.4,6.0],
  [48798.8,5.1],[48804.3,6.0],[48809.8,5.1],[48814.3,5.8],[48818.7,4.6],[48820.9,6.0],[48825.3,4.0],[48833.0,5.5],
  [48838.5,5.3],[48841.8,5.1],[48845.1,5.3],[48848.4,5.3],[48851.8,5.3],[48855.1,5.3],[48858.4,5.1],[48860.6,4.9],
  [48865.0,4.0],[48869.4,4.0],[48876.0,4.6],[48880.4,4.2],[48887.0,3.9],[48891.5,3.9],[48895.9,4.0],[48901.4,5.1],
  [48906.9,4.0],[48913.5,3.3],[48920.1,3.1],[48926.7,3.1],[48935.6,3.1],[48946.6,3.3],[48955.4,2.8],[48958.7,2.5],
  [48700.2,4.9],[48705.8,3.9],[48719.6,3.6],[48731.2,5.6],[48737.8,3.5],[48746.9,5.9],[48752.9,4.3],[48756.7,6.3],
  [48761.5,5.7],[48767.2,6.1],[48776.4,5.4],[48785.9,4.4],[48801.6,4.1],[48812.2,3.8],[48829.5,4.3],[48836.1,4.8],
  [48843.4,4.2],[48862.7,4.4],[48872.8,3.6],[48884.2,3.4],[48898.1,3.6],[48910.3,3.7],[48917.4,3.2],[48930.8,2.9],
  [48941.3,3.4],[48951.2,3.0],
];

// ---------- T2D (Suzuki_2024) ----------
const t2dLead: P[] = [[48693.0, 8.36]];
const t2dSig: P[] = [
  [48703.3,8.26],[48703.3,8.15],[48702.9,8.03],[48703.5,7.95],[48704.0,7.61],[48704.0,7.52],[48704.4,7.36],
];
const t2dLow: P[] = [
  [48705.1,6.79],[48705.7,6.64],[48706.2,6.48],[48706.6,6.56],[48708.4,6.64],[48707.3,6.33],[48709.5,6.25],
  [48705.1,6.17],[48706.2,6.02],[48710.2,5.79],[48710.6,5.63],[48702.9,5.63],[48704.0,5.25],[48711.0,5.43],
  [48708.8,5.68],[48708.0,5.94],[48699.6,4.63],[48694.0,4.40],[48662.1,4.55],[48665.4,4.24],[48674.2,4.24],
  [48679.7,4.66],[48747.0,4.75],[48747.6,4.24],[48751.4,4.14],[48721.6,4.29],[48717.2,3.93],[48708.0,4.35],
  [48708.0,3.93],[48710.6,3.58],[48715.0,3.32],[48705.1,3.32],[48700.7,3.35],[48732.2,3.77],[48734.9,3.70],
  [48736.6,3.73],[48651.0,3.16],[48652.1,3.09],[48654.4,3.86],[48655.5,3.93],[48656.6,3.78],[48666.0,3.24],
  [48667.6,3.01],[48680.8,3.24],[48684.1,3.09],[48690.7,2.85],[48693.0,3.01],[48695.2,2.78],[48697.4,2.78],
  [48698.5,2.93],[48696.3,2.70],[48714.6,2.24],[48727.1,2.55],[48728.2,2.78],[48732.6,2.47],[48734.4,2.16],
  [48730.4,2.62],[48743.7,2.47],[48747.0,2.93],[48750.3,2.85],[48753.6,3.01],[48756.9,2.78],[48759.1,2.31],
  [48760.2,2.00],[48756.9,2.16],[48770.1,2.85],[48776.8,3.01],[48777.4,2.93],[48783.8,2.47],[48788.9,2.50],
  [48791.8,2.39],[48793.3,2.16],[48796.6,2.31],[48798.8,2.31],[48803.2,2.39],[48809.8,2.39],[48812.0,2.31],
  [48814.3,2.24],[48820.9,3.01],[48826.4,3.09],[48827.5,3.39],[48828.6,3.86],[48827.9,3.70],[48829.3,3.93],
  [48832.3,3.73],[48829.7,3.63],[48826.4,3.16],[48842.5,3.78],[48872.7,2.24],[48873.8,2.16],[48876.0,1.85],
  [48877.1,1.70],[48877.8,2.16],[48891.5,3.01],[48913.5,2.31],[48920.1,2.00],[48927.8,2.00],[48934.5,1.85],
  [48958.7,2.00],[48959.8,1.93],
  [48646.5,1.3],[48648.2,1.9],[48649.6,0.7],[48651.4,1.6],[48653.8,2.1],[48655.9,1.4],[48657.3,2.4],[48659.1,1.2],
  [48660.7,1.8],[48662.9,2.0],[48664.2,1.5],[48666.8,2.5],[48668.5,1.7],[48670.3,1.3],[48672.6,2.2],[48674.9,1.9],
  [48676.4,2.6],[48678.8,2.3],[48680.2,1.6],[48682.5,2.1],[48683.7,2.6],[48685.9,1.8],[48687.4,2.4],[48689.1,2.2],
  [48691.6,1.9],[48693.8,2.5],[48695.7,1.6],[48697.9,2.3],[48699.3,1.4],[48701.8,2.0],[48704.6,1.8],[48706.9,1.5],
  [48709.2,2.1],[48712.4,1.7],[48716.1,2.0],[48718.7,1.4],[48720.9,1.9],[48723.5,1.6],[48725.8,2.2],[48729.6,1.8],
  [48733.1,1.5],[48737.4,1.9],[48740.2,1.3],[48742.8,2.1],[48745.5,1.6],[48749.1,1.9],[48752.6,1.4],[48755.2,1.8],
  [48758.4,1.6],[48761.9,1.5],[48764.7,1.9],[48767.3,1.3],[48771.8,1.7],[48775.6,1.4],[48779.4,1.8],[48782.7,1.5],
  [48786.1,1.9],[48789.8,1.6],[48794.6,2.0],[48797.3,1.4],[48801.7,1.6],[48805.8,1.3],[48808.4,1.7],[48813.2,1.4],
  [48817.6,1.2],[48821.3,1.5],[48824.7,1.3],[48830.5,1.6],[48835.2,1.4],[48839.8,1.7],[48843.6,1.3],[48847.1,1.5],
  [48851.4,1.2],[48855.7,1.6],[48859.3,1.3],[48863.8,1.5],[48867.4,1.2],[48871.9,1.4],[48874.6,1.7],[48878.3,1.3],
  [48882.8,1.6],[48886.5,1.2],[48889.7,1.5],[48894.2,1.7],[48897.6,1.3],[48901.3,1.2],[48905.1,1.4],[48908.8,1.6],
  [48912.2,1.3],[48916.7,1.5],[48919.4,1.2],[48923.8,1.4],[48927.1,1.6],[48931.5,1.3],[48935.9,1.5],[48939.2,1.7],
  [48942.6,1.4],[48946.3,1.6],[48950.5,1.3],[48953.8,1.7],[48957.2,1.5],[48960.6,1.8],
];

// ---------- genes: label, start kb, end kb, row, exons ----------
type Gene = [string, number, number, number, [number, number][]];
const genes: Gene[] = [
  ['←CA11', 48638.2, 48646.6, 1, [[48638.2,48640.5],[48642.6,48643.0],[48645.6,48646.6]]],
  ['←NTN5', 48662.1, 48673.1, 1, [[48662.1,48664.7],[48667.4,48667.9],[48670.7,48671.1],[48672.7,48673.1]]],
  ['FUT2→', 48696.7, 48705.7, 1, [[48696.7,48697.2],[48702.9,48705.7]]],
  ['←RASIP1', 48721.1, 48740.8, 1, [[48721.1,48721.7],[48723.6,48724.1],[48726.9,48727.4],[48729.1,48729.6],[48732.0,48732.5],[48734.7,48735.2],[48737.9,48738.4],[48740.2,48740.8]]],
  ['←RNU6−317P', 48793.1, 48793.5, 1, [[48793.1,48793.5]]],
  ['←PLEKHA4', 48837.6, 48868.9, 1, [[48837.6,48838.1],[48838.8,48839.3],[48841.5,48842.0],[48845.6,48846.1],[48848.1,48848.6],[48853.5,48854.0],[48857.2,48857.7],[48859.8,48861.0],[48862.8,48863.3],[48865.3,48865.8],[48868.3,48868.9]]],
  ['←TULP2', 48881.2, 48898.5, 1, [[48881.2,48881.7],[48882.3,48882.8],[48883.6,48884.1],[48885.6,48886.1],[48887.6,48888.1],[48889.8,48890.3],[48895.0,48895.5],[48896.6,48897.1],[48897.9,48898.5]]],
  ['DHDH→', 48934.0, 48944.7, 1, [[48934.0,48934.5],[48936.3,48936.8],[48938.8,48939.3],[48941.2,48941.7],[48944.2,48944.7]]],
  ['SEC1P→', 48638.2, 48682.4, 2, [[48638.2,48638.7],[48663.0,48663.5],[48668.0,48668.5],[48674.0,48674.5],[48679.6,48682.4]]],
  ['←MAMSTR', 48712.7, 48720.7, 2, [[48712.7,48716.2],[48718.8,48719.3],[48720.2,48720.7]]],
  ['←FUT1', 48748.1, 48755.2, 2, [[48748.1,48752.0],[48754.6,48755.2]]],
  ['←BCAT2', 48795.1, 48811.2, 2, [[48795.1,48798.1],[48799.4,48800.6],[48807.1,48809.2],[48810.7,48811.2]]],
  ['PPP1R15A→', 48872.5, 48876.3, 2, [[48872.5,48876.3]]],
  ['NUCB1→', 48900.1, 48923.2, 2, [[48900.1,48900.6],[48902.9,48903.4],[48906.6,48907.1],[48911.5,48912.0],[48916.4,48916.9],[48919.1,48919.8],[48920.8,48923.2]]],
  ['BAX→', 48955.3, 48961.9, 2, [[48955.3,48956.9],[48958.3,48958.7],[48960.3,48961.9]]],
  ['←IZUMO1', 48740.9, 48747.3, 3, [[48740.9,48742.6],[48743.0,48747.3]]],
  ['←HSD17B14', 48813.2, 48836.8, 3, [[48813.2,48813.7],[48815.2,48815.7],[48832.1,48832.6],[48833.3,48833.8],[48834.6,48835.1],[48836.3,48836.8]]],
  ['←NUCB1−AS1', 48910.9, 48919.1, 3, [[48910.9,48911.3],[48918.7,48919.1]]],
  ['FGF21→', 48756.2, 48758.5, 4, [[48756.2,48757.0],[48757.6,48758.5]]],
  ['CTD−2639E6.4→', 48926.4, 48926.8, 4, [[48926.4,48926.8]]],
];

// ---------- helpers ----------
const pts = (list: P[]) => list.map(([x, y]) => ({ x, y }));
const band = (pos: number[], vals: number[]) => {
  const out: { x: number; y: number }[] = [];
  for (let i = 0; i < pos.length && i < vals.length; i++) out.push({ x: pos[i], y: vals[i] });
  return out;
};
// both background SNP sets merged in genomic order (drawn left to right)
const mergedBand = (v1: number[], v2: number[]) => band(snpKb, v1).concat(band(snpKb2, v2)).sort((a, b) => a.x - b.x);

const tickGrid = { display: true, drawOnChartArea: false, drawTicks: true, tickLength: 6, color: '#333', lineWidth: 1 };
const axisBorder = { display: true, color: '#444', width: 1.5 };

const xScale = (h: number, showLabels: boolean) => ({
  type: 'linear',
  min: X_MIN,
  max: X_MAX,
  afterBuildTicks: (s: any) => { s.ticks = xTickValues.map((v) => ({ value: v })); },
  afterFit: (s: any) => { s.height = h; s.paddingLeft = 0; s.paddingRight = 0; },
  grid: tickGrid,
  border: axisBorder,
  ticks: {
    display: showLabels,
    autoSkip: false,
    maxRotation: 0,
    minRotation: 0,
    padding: 3,
    color: '#111',
    font: { family: FONT, size: 15 },
    callback: (v: any) => { const i = xTickValues.indexOf(Number(v)); return i >= 0 ? xTickLabels[i] : ''; },
  },
});

type PanelSpec = { lead: P[]; sig: P[]; low: P[]; band1: number[]; band2: number[]; bandBorder: number; yMin: number; yMax: number; ticks: number[]; padTop: number; xH: number };

const dot = (fill: string, bw = 1) => ({
  pointRadius: 4.3, pointHoverRadius: 4.3, pointBackgroundColor: fill, pointBorderColor: '#111', pointBorderWidth: bw,
});

function panelConfig(p: PanelSpec): any {
  return {
    type: 'scatter',
    data: {
      datasets: [
        { data: pts(p.lead), pointStyle: 'rectRot', pointRadius: 5.2, pointHoverRadius: 5.2, pointBackgroundColor: '#ff0000', pointBorderColor: '#5a0000', pointBorderWidth: 1 },
        { data: pts(p.sig), ...dot('#1e90ff') },
        { data: pts(p.low), ...dot('#bebebe') },
        { data: mergedBand(p.band1, p.band2), ...dot('#bebebe', p.bandBorder) },
        { type: 'line', data: [{ x: X_MIN, y: GWS_LINE }, { x: X_MAX, y: GWS_LINE }], borderColor: '#b5b5b5', borderWidth: 1, borderDash: [4, 3], pointRadius: 0, fill: false },
      ],
    },
    options: {
      responsive: false,
      animation: false,
      devicePixelRatio: 1,
      events: [],
      layout: { padding: { top: p.padTop, left: 0, right: 1, bottom: 0 } },
      plugins: { legend: { display: false }, tooltip: { enabled: false } },
      scales: {
        x: xScale(p.xH, false),
        y: {
          type: 'linear',
          min: p.yMin,
          max: p.yMax,
          afterBuildTicks: (s: any) => { s.ticks = p.ticks.map((v) => ({ value: v })); },
          afterFit: (s: any) => { s.width = 72; s.paddingTop = 0; s.paddingBottom = 0; },
          grid: tickGrid,
          border: axisBorder,
          ticks: { autoSkip: false, padding: 3, color: '#111', font: { family: FONT, size: 15 } },
        },
      },
    },
  };
}

const geneLabelPlugin = {
  id: 'geneLabels',
  afterDatasetsDraw(chart: any) {
    const { ctx } = chart;
    const xs = chart.scales.x;
    const ys = chart.scales.y;
    ctx.save();
    ctx.font = `11px ${FONT}`;
    ctx.fillStyle = '#111';
    ctx.textAlign = 'center';
    ctx.textBaseline = 'middle';
    genes.forEach((g) => {
      ctx.fillText(g[0], xs.getPixelForValue((g[1] + g[2]) / 2), ys.getPixelForValue(g[3]) - 8.5);
    });
    ctx.restore();
  },
};

function geneConfig(): any {
  const spans: any[] = [];
  const exons: any[] = [];
  genes.forEach(([, s, e, r, ex]) => {
    spans.push({ x: s, y: r }, { x: e, y: r }, { x: e, y: null });
    ex.forEach(([a, b]) => { exons.push({ x: a, y: r }, { x: b, y: r }, { x: b, y: null }); });
  });
  return {
    type: 'line',
    data: {
      datasets: [
        { data: exons, borderColor: '#0b0b8c', borderWidth: 7, borderCapStyle: 'butt', pointRadius: 0, spanGaps: false, fill: false },
        { data: spans, borderColor: '#2a2ab8', borderWidth: 1.3, pointRadius: 0, spanGaps: false, fill: false },
      ],
    },
    options: {
      responsive: false,
      animation: false,
      devicePixelRatio: 1,
      events: [],
      layout: { padding: { top: 0, left: 72, right: 1, bottom: 0 } },
      plugins: { legend: { display: false }, tooltip: { enabled: false } },
      scales: {
        x: xScale(53, true),
        y: { type: 'linear', display: false, reverse: true, min: 0.1724, max: 4.4655 },
      },
    },
    plugins: [geneLabelPlugin],
  };
}

const valinePanel: PanelSpec = { lead: valineLead, sig: valineSig, low: valineLow, band1: valineBandP, band2: valineBand2P, bandBorder: 1.6, yMin: -5.32, yMax: 144.73, ticks: valineTicks, padTop: 35, xH: 11 };
const tgPanel: PanelSpec = { lead: tgLead, sig: tgSig, low: tgLow, band1: tgBandP, band2: tgBand2P, bandBorder: 1.4, yMin: -2.99, yMax: 66.24, ticks: tgTicks, padTop: 18, xH: 7 };
const t2dPanel: PanelSpec = { lead: t2dLead, sig: t2dSig, low: t2dLow, band1: t2dBandP, band2: t2dBand2P, bandBorder: 1, yMin: -0.416, yMax: 8.647, ticks: t2dTicks, padTop: 13, xH: 6 };

const YTitle = ({ cy }: { cy: number }) => (
  <div style={{ position: 'absolute', left: 27, top: cy, transform: 'translate(-50%,-50%) rotate(-90deg)', fontSize: 17, lineHeight: 1, whiteSpace: 'nowrap' }}>
    −log<span style={{ fontSize: 11, position: 'relative', top: 4 }}>10</span> P
  </div>
);

const PanelTitle = ({ top, text }: { top: number; text: string }) => (
  <div style={{ position: 'absolute', right: 2, top, fontSize: 21, lineHeight: 1, whiteSpace: 'nowrap' }}>{text}</div>
);

export default function App() {
  const c1 = useRef<HTMLCanvasElement>(null);
  const c2 = useRef<HTMLCanvasElement>(null);
  const c3 = useRef<HTMLCanvasElement>(null);
  const c4 = useRef<HTMLCanvasElement>(null);

  useEffect(() => {
    const charts = [
      new Chart(c1.current as HTMLCanvasElement, panelConfig(valinePanel)),
      new Chart(c2.current as HTMLCanvasElement, panelConfig(tgPanel)),
      new Chart(c3.current as HTMLCanvasElement, panelConfig(t2dPanel)),
      new Chart(c4.current as HTMLCanvasElement, geneConfig()),
    ];
    return () => charts.forEach((c) => c.destroy());
  }, []);

  const cv = (top: number, h: number): React.CSSProperties => ({ position: 'absolute', left: 0, top, width: 763, height: h, display: 'block' });

  return (
    <div style={{ position: 'absolute', left: 0, top: 0, width: 763, height: 931, overflow: 'hidden', background: '#fff', fontFamily: FONT, color: '#111' }}>
      <canvas ref={c1} width={763} height={300} style={cv(0, 300)} />
      <canvas ref={c2} width={763} height={280} style={cv(300, 280)} />
      <canvas ref={c3} width={763} height={215} style={cv(580, 215)} />
      <canvas ref={c4} width={763} height={136} style={cv(795, 136)} />

      <div style={{ position: 'absolute', left: 9, top: 9, fontSize: 24, lineHeight: 1 }}>B</div>
      <div style={{ position: 'absolute', right: 763 - 349, top: 2, fontSize: 14, lineHeight: '14px', color: '#a0522d', transformOrigin: 'right center', transform: 'rotate(55deg)', whiteSpace: 'nowrap' }}>Amino acids</div>
      <div style={{ position: 'absolute', right: 763 - 540, top: 26, fontSize: 14, lineHeight: '14px', color: '#33a02c', transformOrigin: 'right center', transform: 'rotate(55deg)', whiteSpace: 'nowrap' }}>Lipoprotein concentrations</div>

      <PanelTitle top={33.5} text="Valine (meta_EUR)" />
      <PanelTitle top={315.5} text="Triglycerides in IDL (meta_EUR)" />
      <PanelTitle top={586.5} text="T2D (Suzuki_2024)" />

      <YTitle cy={162} />
      <YTitle cy={445} />
      <YTitle cy={691} />

      <div style={{ position: 'absolute', left: 417, top: 918, transform: 'translate(-50%,-50%)', fontSize: 16, lineHeight: 1, whiteSpace: 'nowrap' }}>Chromosome 19 (Mb)</div>
    </div>
  );
}
